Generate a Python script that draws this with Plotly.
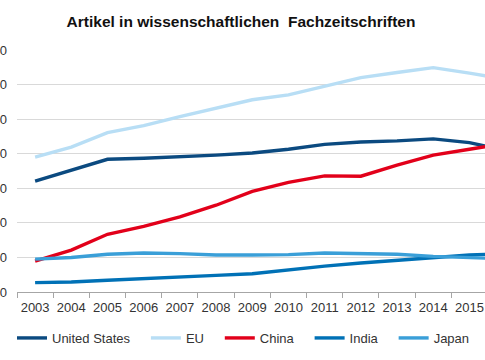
import plotly.graph_objects as go

years = list(range(2003, 2017))
year_labels = [str(y) for y in range(2003, 2016)]

us = [321000, 353000, 384000, 387000, 391000, 396000, 402000, 413000, 427000, 434000, 437000, 443000, 432000, 410000]
eu = [390000, 419000, 461000, 481000, 507000, 532000, 556000, 570000, 594000, 620000, 635000, 649000, 633000, 615000]
china = [89000, 121000, 167000, 190000, 217000, 251000, 291000, 317000, 336000, 335000, 367000, 396000, 413000, 430000]
india = [27000, 29000, 34000, 38000, 43000, 48000, 53000, 65000, 75000, 84000, 92000, 101000, 107000, 111000]
japan = [95000, 100000, 109000, 113000, 111000, 107000, 107000, 108000, 113000, 110000, 109000, 103000, 100000, 96000]

series = [
    ("United States", us, "#0b4a80"),
    ("EU", eu, "#b8def5"),
    ("China", china, "#e2001a"),
    ("India", india, "#0071b6"),
    ("Japan", japan, "#3a9fd8"),
]

yticks = [0, 100000, 200000, 300000, 400000, 500000, 600000, 700000]

PAD = "\u00a0\u00a0\u00a0"

fig = go.Figure()
for name, vals, col in series:
    fig.add_trace(go.Scatter(x=years, y=vals, name=name + PAD, mode="lines",
                             line=dict(color=col, width=3.4)))

font_family = "Liberation Sans, Arial, sans-serif"
fig.update_layout(
    width=485, height=360,
    margin=dict(l=17, r=0, t=50, b=68),
    paper_bgcolor="white", plot_bgcolor="white",
    separators=",.",
    font=dict(family=font_family, size=13, color="#333333"),
    title=dict(text="<b>Artikel in wissenschaftlichen  Fachzeitschriften</b>",
               x=241 / 485, xanchor="center", y=1 - 22 / 360, yanchor="middle",
               font=dict(family=font_family, size=15.5, color="#111111")),
    showlegend=True,
    legend=dict(orientation="h", x=2 / 468, xanchor="left", y=-0.128, yanchor="top",
                font=dict(family=font_family, size=13, color="#333333"),
                itemwidth=30, tracegroupgap=0),
    xaxis=dict(range=[2002.5, 2015.43], tickmode="array", tickvals=list(range(2003, 2016)),
               ticktext=year_labels, ticks="", showgrid=False, zeroline=False,
               showline=True, linecolor="#a6a6a6", linewidth=1, automargin=False,
               ticklabelstandoff=3,
               tickfont=dict(family=font_family, size=13, color="#333333"),
               minor=dict(tick0=2002.5, dtick=1, ticks="outside", ticklen=5,
                          tickcolor="#a6a6a6", tickwidth=1, showgrid=False)),
    yaxis=dict(range=[0, 700000], tickmode="array", tickvals=yticks,
               tickformat=",d", showgrid=True, gridcolor="#d9d9d9", gridwidth=1,
               zeroline=False, showline=False, automargin=False, ticks="",
               ticklabelstandoff=9,
               tickfont=dict(family=font_family, size=13, color="#333333")),
)

fig.write_html("out.html", config={"displayModeBar": False},
               post_script="document.body.style.margin='0';document.body.style.padding='0';")
